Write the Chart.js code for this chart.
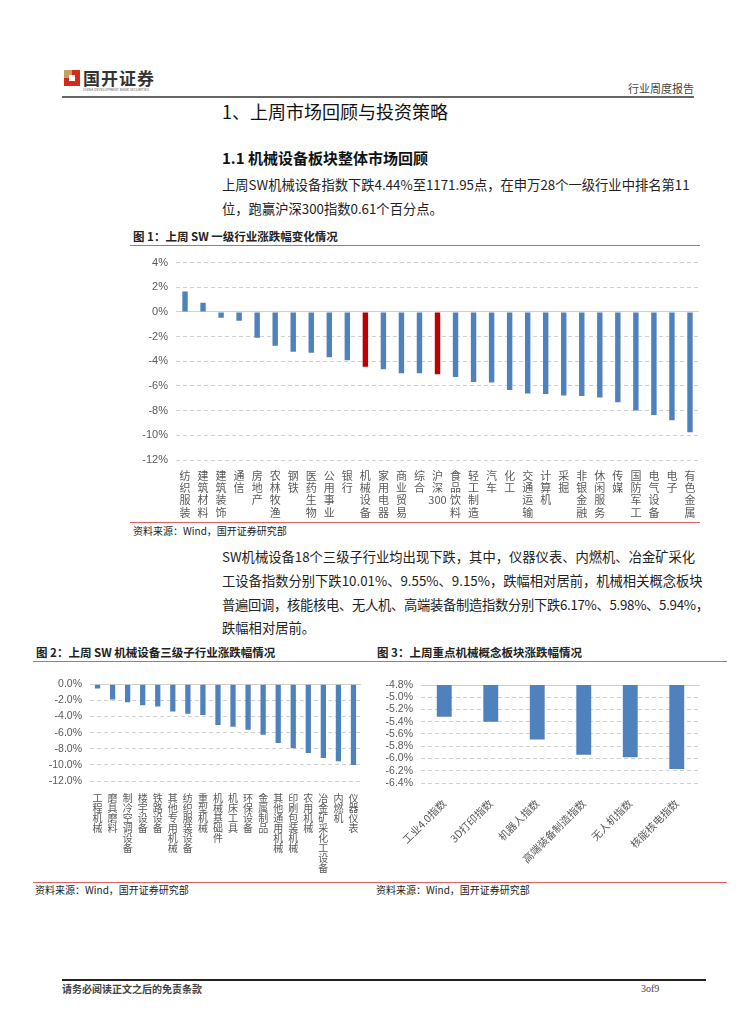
<!DOCTYPE html>
<html>
<head>
<meta charset="utf-8">
<script src="https://cdn.jsdelivr.net/npm/chart.js@4.4.1/dist/chart.umd.min.js"></script>
<style>
  html, body { margin: 0; padding: 0; background: #fff; }
  body { width: 754px; height: 1024px; position: relative; overflow: hidden;
         font-family: "Noto Sans CJK SC", "Liberation Sans", sans-serif; color: #222; }
  .t { position: absolute; white-space: nowrap; line-height: 1; }
  .ln { position: absolute; height: 1px; background: #e06060; }
  .box { position: absolute; }
</style>
</head>
<body>
<!-- header -->
<div class="box" style="left:64px;top:70px;width:16px;height:16px;background:#d52b1e;"></div>
<div class="box" style="left:64px;top:70px;width:8px;height:8px;background:#c9a063;"></div>
<div class="box" style="left:69px;top:75px;width:6px;height:6px;background:#fff;"></div>
<div class="t" style="left:83px;top:69px;font-size:17px;font-weight:bold;color:#333;letter-spacing:1px;">国开证券</div>
<div class="t" style="left:83px;top:88px;font-size:3.5px;color:#555;">CHINA DEVELOPMENT BANK SECURITIES</div>
<div class="t" style="left:628px;top:83px;font-size:11px;color:#444;">行业周度报告</div>
<div class="box" style="left:62px;top:96px;width:632px;height:2px;background:#666;"></div>

<div class="t" style="left:222px;top:102px;font-size:18px;color:#111;">1、上周市场回顾与投资策略</div>
<div class="t" style="left:222px;top:150px;font-size:15px;font-weight:bold;color:#111;">1.1 机械设备板块整体市场回顾</div>
<div class="t" style="left:222px;top:178px;font-size:13.3px;">上周SW机械设备指数下跌4.44%至1171.95点，在申万28个一级行业中排名第11</div>
<div class="t" style="left:222px;top:202px;font-size:13.3px;">位，跑赢沪深300指数0.61个百分点。</div>

<div class="t" style="left:133px;top:231px;font-size:11.5px;font-weight:bold;">图 1：上周 SW 一级行业涨跌幅变化情况</div>
<div class="ln" style="left:130px;top:245px;width:570px;"></div>
<div class="box" style="left:130px;top:248px;width:580px;height:273px;"><canvas id="c1"></canvas></div>
<div class="ln" style="left:130px;top:522px;width:570px;"></div>
<div class="t" style="left:133px;top:526px;font-size:10px;">资料来源：Wind，国开证券研究部</div>

<div class="t" style="left:222px;top:550px;font-size:13.3px;">SW机械设备18个三级子行业均出现下跌，其中，仪器仪表、内燃机、冶金矿采化</div>
<div class="t" style="left:222px;top:574px;font-size:13.3px;">工设备指数分别下跌10.01%、9.55%、9.15%，跌幅相对居前，机械相关概念板块</div>
<div class="t" style="left:222px;top:598px;font-size:13.3px;letter-spacing:-0.3px;">普遍回调，核能核电、无人机、高端装备制造指数分别下跌6.17%、5.98%、5.94%，</div>
<div class="t" style="left:222px;top:621px;font-size:13.3px;">跌幅相对居前。</div>

<div class="t" style="left:36px;top:647px;font-size:11.5px;font-weight:bold;">图 2：上周 SW 机械设备三级子行业涨跌幅情况</div>
<div class="t" style="left:377px;top:647px;font-size:11.5px;font-weight:bold;">图 3：上周重点机械概念板块涨跌幅情况</div>
<div class="ln" style="left:33px;top:661px;width:694px;"></div>
<div class="box" style="left:40px;top:670px;width:330px;height:205px;"><canvas id="c2"></canvas></div>
<div class="box" style="left:370px;top:670px;width:340px;height:205px;"><canvas id="c3"></canvas></div>
<div class="ln" style="left:33px;top:882px;width:694px;"></div>
<div class="t" style="left:35px;top:885px;font-size:10px;">资料来源：Wind，国开证券研究部</div>
<div class="t" style="left:376px;top:885px;font-size:10px;">资料来源：Wind，国开证券研究部</div>

<!-- footer -->
<div class="box" style="left:62px;top:979px;width:644px;height:2px;background:#222;"></div>
<div class="t" style="left:62px;top:984px;font-size:10px;font-weight:bold;color:#444;">请务必阅读正文之后的免责条款</div>
<div class="t" style="left:641px;top:984px;font-size:10px;color:#444;font-family:'Liberation Serif',serif;">3of9</div>

<script>
// 图1: 申万一级行业
const industries = ['纺织服装','建筑材料','建筑装饰','通信','房地产','农林牧渔','钢铁','医药生物','公用事业','银行',
  '机械设备','家用电器','商业贸易','综合','沪深300','食品饮料','轻工制造','汽车','化工','交通运输',
  '计算机','采掘','非银金融','休闲服务','传媒','国防军工','电气设备','电子','有色金属'];
const industryChg = [1.66,0.75,-0.46,-0.72,-2.09,-2.73,-3.22,-3.30,-3.67,-3.91,
  -4.44,-4.64,-4.96,-4.97,-5.05,-5.28,-5.68,-5.71,-6.33,-6.62,
  -6.65,-6.78,-6.81,-6.94,-7.32,-7.99,-8.36,-8.77,-9.76];
const highlighted = ['机械设备','沪深300'];
const yTicks1 = [4, -12, 2]; // max, min, step

// 图2: 机械设备三级子行业
const subIndustries = ['工程机械','磨具磨料','制冷空调设备','楼宇设备','铁路设备','其他专用机械','纺织服装设备','重型机械','机械基础件',
  '机床工具','环保设备','金属制品','其他通用机械','印刷包装机械','农用机械','冶金矿采化工设备','内燃机','仪器仪表'];
const subChg = [-0.53,-1.89,-2.22,-2.59,-2.75,-3.37,-3.66,-3.82,-5.05,
  -5.26,-5.63,-6.25,-7.27,-7.93,-8.51,-9.15,-9.55,-10.01];
const yTicks2 = [0, -12, 2];

// 图3: 概念板块
const concepts = ['工业4.0指数','3D打印指数','机器人指数','高端装备制造指数','无人机指数','核能核电指数'];
const conceptChg = [-5.32,-5.40,-5.69,-5.94,-5.98,-6.17];
const yTicks3 = [-4.8, -6.4, 0.2];

const BLUE = '#4f81bd', RED = '#c00000', GRAY = '#595959', GRID = '#d0d0d0';
const numFont = {family: 'Liberation Sans', size: 11};
const cjkFont = {family: 'Noto Sans CJK SC', size: 11, lineHeight: 1.1};

function vertical(s) {
  if (s === '沪深300') return ['沪','深','300'];
  return s.split('');
}

function makeChart(id, labels, data, colors, yt, fmt, opt) {
  return new Chart(document.getElementById(id), {
    type: 'bar',
    data: {
      labels: labels,
      datasets: [{ data: data, backgroundColor: colors,
        barPercentage: opt.barPct, categoryPercentage: 1 }]
    },
    options: {
      responsive: true, maintainAspectRatio: false, animation: false,
      layout: { padding: opt.pad },
      plugins: { legend: { display: false }, tooltip: { enabled: false } },
      scales: {
        x: {
          grid: { display: false }, border: { display: false },
          ticks: { autoSkip: false, maxRotation: opt.rot, minRotation: opt.rot, color: GRAY,
            font: opt.xFont, padding: opt.xPad },
          afterFit: s => { s.height = opt.xH; }
        },
        y: {
          min: yt[1], max: yt[0],
          grid: { color: GRID, drawTicks: false },
          border: { display: false, dash: c => (c.tick && Math.abs(c.tick.value - opt.solidAt) < 1e-6) ? [] : [4, 3] },
          ticks: { stepSize: yt[2], autoSkip: false, color: GRAY, font: opt.yFont, padding: 8, callback: fmt },
          afterFit: s => { s.width = opt.yW; }
        }
      }
    }
  });
}

makeChart('c1', industries.map(vertical), industryChg,
  industries.map(n => highlighted.includes(n) ? RED : BLUE),
  yTicks1, v => Math.round(v) + '%',
  { barPct: 0.3, pad: {top: 13, right: 11}, rot: 0, xFont: cjkFont, xPad: 2, xH: 61,
    yFont: numFont, yW: 46, solidAt: 0 });

makeChart('c2', subIndustries.map(vertical), subChg, BLUE,
  yTicks2, v => Number(v).toFixed(1) + '%',
  { barPct: 0.35, pad: {top: 13, right: 9}, rot: 0,
    xFont: {family: 'Noto Sans CJK SC', size: 10, lineHeight: 1.0}, xPad: 4, xH: 94,
    yFont: {family: 'Liberation Sans', size: 10.5}, yW: 50, solidAt: 0 });

makeChart('c3', concepts, conceptChg, BLUE,
  yTicks3, v => Number(v).toFixed(1) + '%',
  { barPct: 0.32, pad: {top: 15, right: 10}, rot: 45,
    xFont: {family: 'Noto Sans CJK SC', size: 10.5}, xPad: 6, xH: 92,
    yFont: {family: 'Liberation Sans', size: 10.5}, yW: 51, solidAt: -4.8 });
</script>
</body>
</html>
